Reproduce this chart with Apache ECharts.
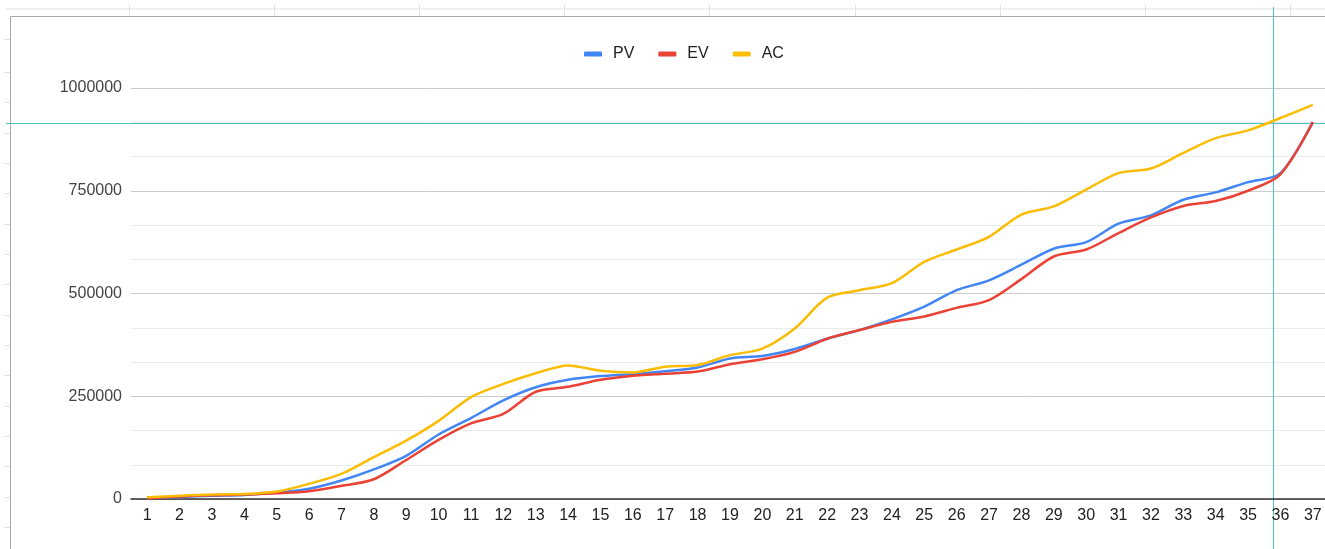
<!DOCTYPE html>
<html>
<head>
<meta charset="utf-8">
<script src="https://cdn.jsdelivr.net/npm/echarts@6/dist/echarts.min.js"></script>
<style>
    html, body { margin: 0; padding: 0; background: #fff; overflow: hidden; }
    #chart { width: 1329px; height: 549px; }
</style>
</head>
<body>
<div id="chart"></div>
<script>
var weeks = ['1', '2', '3', '4', '5', '6', '7', '8', '9', '10', '11', '12', '13', '14', '15', '16', '17', '18', '19',
    '20', '21', '22', '23', '24', '25', '26', '27', '28', '29', '30', '31', '32', '33', '34', '35', '36', '37'];

var pv = [3000, 5000, 8000, 10000, 15000, 25000, 45000, 72000, 105000, 157000, 197000, 240000, 272000, 290000, 299000,
    304000, 311000, 320000, 342000, 348000, 365000, 390000, 411000, 437000, 468000, 508000, 532000, 570000, 609000,
    625000, 670000, 690000, 728000, 746000, 771000, 793000, 917000];

var ev = [2000, 6000, 9000, 11000, 14000, 19000, 32000, 48000, 95000, 144000, 184000, 207000, 261000, 273000, 290000,
    300000, 305000, 310000, 328000, 340000, 358000, 390000, 411000, 431000, 444000, 465000, 484000, 535000, 590000,
    607000, 647000, 685000, 713000, 725000, 750000, 790000, 917000];

var ac = [4000, 8000, 11000, 12000, 18000, 37000, 61000, 102000, 142000, 190000, 248000, 280000, 306000, 325000, 312000,
    308000, 322000, 326000, 350000, 366000, 415000, 490000, 508000, 525000, 577000, 607000, 638000, 692000, 712000,
    753000, 793000, 804000, 842000, 878000, 897000, 927000, 959000];

var yTicks = [0, 250000, 500000, 750000, 1000000];

// sheet cursor (crosshair) position, in week units / value units
var cursorWeek = 35.77;
var cursorValue = 915000;

window.onload = function () {
    var chart = echarts.init(document.getElementById('chart'));
    var font = 'Arial, "Liberation Sans", sans-serif';

    var option = {
        animation: false,
        color: ['#4285f4', '#ea4335', '#fbbc04'],
        textStyle: { fontFamily: font },
        legend: {
            data: ['PV', 'EV', 'AC'],
            left: 584,
            top: 46,
            padding: 0,
            icon: 'roundRect',
            itemWidth: 18,
            itemHeight: 5,
            itemGap: 24,
            textStyle: {
                fontSize: 16,
                color: '#222',
                padding: [0, 0, 0, 6]
            }
        },
        grid: {
            left: 131,
            right: 0,
            top: 88,
            bottom: 50,
            containLabel: false
        },
        xAxis: {
            type: 'category',
            boundaryGap: true,
            data: weeks,
            axisTick: { show: false },
            axisLine: { lineStyle: { color: '#333', width: 1.5 } },
            axisLabel: {
                fontSize: 16,
                color: '#222',
                margin: 9,
                interval: 0
            },
            splitLine: { show: false }
        },
        yAxis: {
            type: 'value',
            min: yTicks[0],
            max: yTicks[yTicks.length - 1],
            interval: yTicks[1] - yTicks[0],
            axisLine: { show: false },
            axisTick: { show: false },
            axisLabel: {
                fontSize: 16,
                color: '#444',
                margin: 9,
                formatter: function (v) { return String(v); }
            },
            splitLine: { lineStyle: { color: '#cccccc', width: 1 } },
            minorTick: { show: false, splitNumber: 3 },
            minorSplitLine: { show: true, lineStyle: { color: '#ebebeb', width: 1 } }
        },
        series: [
            { name: 'PV', type: 'line', data: pv, smooth: 0.3, showSymbol: false, lineStyle: { width: 2.5 } },
            { name: 'EV', type: 'line', data: ev, smooth: 0.3, showSymbol: false, lineStyle: { width: 2.5 } },
            { name: 'AC', type: 'line', data: ac, smooth: 0.3, showSymbol: false, lineStyle: { width: 2.5 } }
        ]
    };
    chart.setOption(option);

    // spreadsheet background around the chart (cell lines, chart border)
    var deco = [];
    var gray = '#e2e2e2';
    deco.push({ type: 'line', shape: { x1: 5, y1: 9, x2: 1329, y2: 9 }, style: { stroke: gray, lineWidth: 1 } });
    for (var cx = 129; cx < 1329; cx += 145.1) {
        deco.push({ type: 'line', shape: { x1: Math.round(cx) + 0.5, y1: 5, x2: Math.round(cx) + 0.5, y2: 16 }, style: { stroke: gray, lineWidth: 1 } });
    }
    var rows = [39];
    for (var ry = 72; ry < 549; ry += 30.33) rows.push(ry);
    rows.forEach(function (r) {
        deco.push({ type: 'line', shape: { x1: 4, y1: Math.round(r) + 0.5, x2: 10, y2: Math.round(r) + 0.5 }, style: { stroke: gray, lineWidth: 1 } });
    });
    deco.push({ type: 'line', shape: { x1: 10.5, y1: 16.5, x2: 1329, y2: 16.5 }, style: { stroke: '#a8a8a8', lineWidth: 1 } });
    deco.push({ type: 'line', shape: { x1: 10.5, y1: 16.5, x2: 10.5, y2: 549 }, style: { stroke: '#a8a8a8', lineWidth: 1 } });

    // cursor crosshair, placed through the chart's own axes
    var i0 = Math.floor(cursorWeek) - 1;
    var p0 = chart.convertToPixel({ xAxisIndex: 0 }, i0);
    var p1 = chart.convertToPixel({ xAxisIndex: 0 }, i0 + 1);
    var cx2 = Math.round(p0 + (p1 - p0) * (cursorWeek - 1 - i0));
    var cy2 = Math.round(chart.convertToPixel({ yAxisIndex: 0 }, cursorValue));
    var teal = '#4cc2c2';
    deco.push({ type: 'rect', shape: { x: 6, y: cy2, width: 1323, height: 1 }, style: { fill: teal } });
    deco.push({ type: 'rect', shape: { x: cx2, y: 7, width: 1, height: 542 }, style: { fill: teal } });

    chart.setOption({ graphic: { elements: deco } });
};
</script>
</body>
</html>
